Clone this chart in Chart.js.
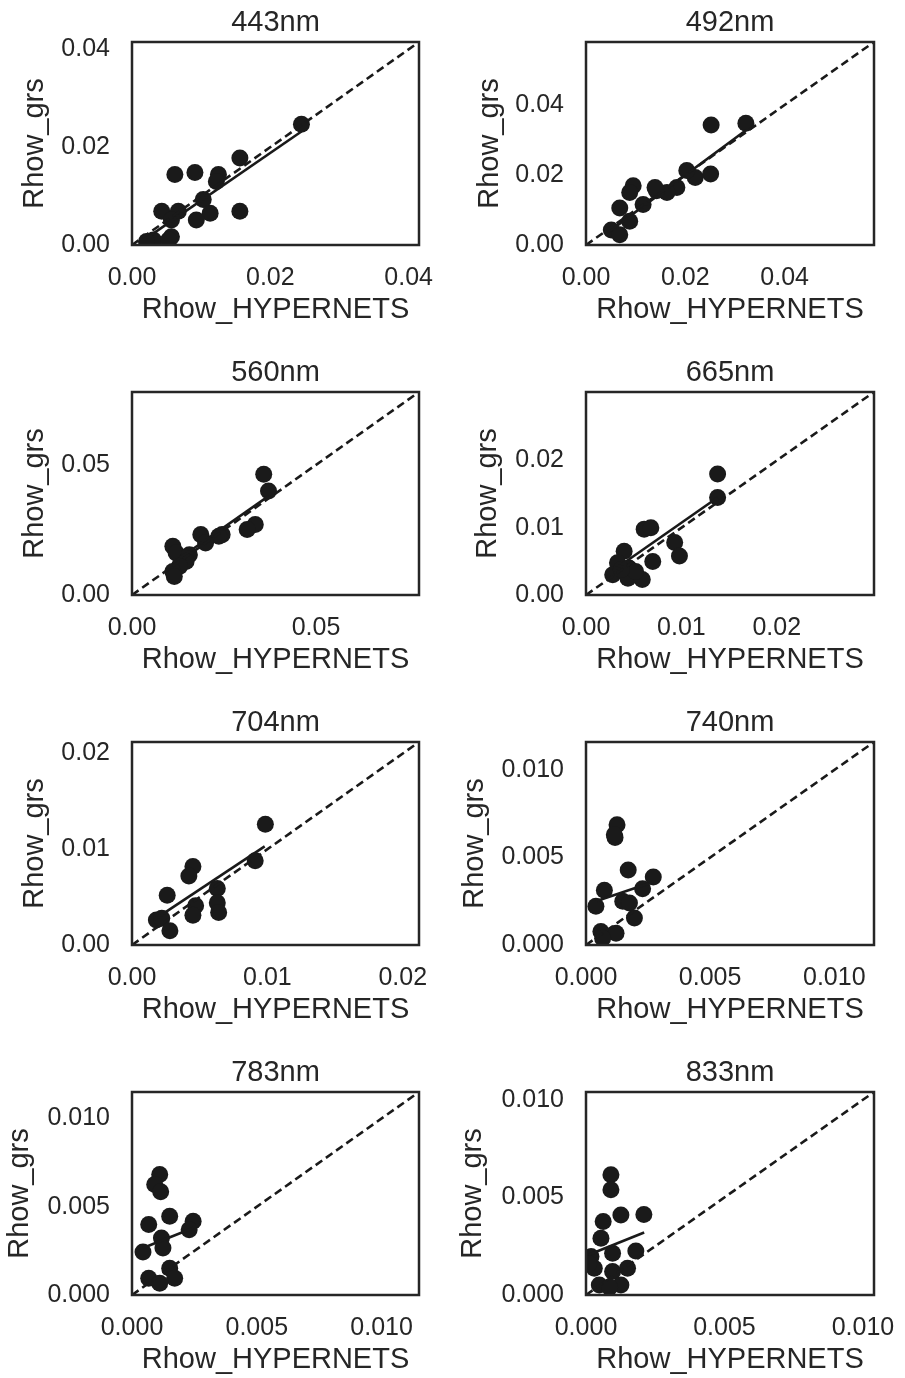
<!DOCTYPE html>
<html>
<head>
<meta charset="utf-8">
<script src="https://cdn.jsdelivr.net/npm/chart.js@4.4.1/dist/chart.umd.min.js"></script>
<style>
  html, body { margin: 0; padding: 0; background: #fff; overflow: hidden; }
  body { width: 905px; height: 1378px; position: relative; }
  .cell { position: absolute; }
</style>
</head>
<body>
<div class="cell" style="left:0;top:0"><canvas id="c0" width="452" height="350"></canvas></div>
<div class="cell" style="left:452px;top:0"><canvas id="c1" width="453" height="350"></canvas></div>
<div class="cell" style="left:0;top:350px"><canvas id="c2" width="452" height="350"></canvas></div>
<div class="cell" style="left:452px;top:350px"><canvas id="c3" width="453" height="350"></canvas></div>
<div class="cell" style="left:0;top:700px"><canvas id="c4" width="452" height="350"></canvas></div>
<div class="cell" style="left:452px;top:700px"><canvas id="c5" width="453" height="350"></canvas></div>
<div class="cell" style="left:0;top:1050px"><canvas id="c6" width="452" height="350"></canvas></div>
<div class="cell" style="left:452px;top:1050px"><canvas id="c7" width="453" height="350"></canvas></div>

<script>
// ==============================|| DATA ||============================== //
const bands = ['443nm', '492nm', '560nm', '665nm', '704nm', '740nm', '783nm', '833nm'];

// axis limits (same for x and y, 1:1 line goes corner to corner)
const axisMax = [0.0415, 0.058, 0.078, 0.0302, 0.0212, 0.0116, 0.0115, 0.0104];

// tick labels
const ticks2 = [0.00, 0.02, 0.04];
const ticks560 = [0.00, 0.05];
const ticks665 = [0.00, 0.01, 0.02];
const ticksNir = [0.000, 0.005, 0.010];

// Rhow_HYPERNETS (x) / Rhow_grs (y)
const hyp443 = [0.0245, 0.0156, 0.0125, 0.0122, 0.0062, 0.0091, 0.0156, 0.0103, 0.0113, 0.0093, 0.0043, 0.0067, 0.0057, 0.0031, 0.0057, 0.0053, 0.0021];
const grs443 = [0.0247, 0.0178, 0.0144, 0.0130, 0.0144, 0.0148, 0.0069, 0.0093, 0.0065, 0.0051, 0.0069, 0.0069, 0.0051, 0.0010, 0.0017, 0.0010, 0.0007];

const hyp492 = [0.0252, 0.0322, 0.0251, 0.0220, 0.0203, 0.0183, 0.0163, 0.0142, 0.0139, 0.0095, 0.0088, 0.0115, 0.0068, 0.0088, 0.0051, 0.0068];
const grs492 = [0.0343, 0.0348, 0.0203, 0.0193, 0.0213, 0.0164, 0.0150, 0.0155, 0.0164, 0.0169, 0.0150, 0.0116, 0.0106, 0.0068, 0.0043, 0.0029];

const hyp560 = [0.0358, 0.0371, 0.0335, 0.0313, 0.0245, 0.0236, 0.0187, 0.0200, 0.0111, 0.0120, 0.0156, 0.0147, 0.0129, 0.0111, 0.0115];
const grs560 = [0.0464, 0.0400, 0.0271, 0.0252, 0.0232, 0.0226, 0.0232, 0.0200, 0.0187, 0.0161, 0.0155, 0.0129, 0.0110, 0.0090, 0.0071];

const hyp665 = [0.0138, 0.0138, 0.0061, 0.0068, 0.0093, 0.0098, 0.0070, 0.0040, 0.0033, 0.0045, 0.0028, 0.0044, 0.0059, 0.0052, 0.0037];
const grs665 = [0.0180, 0.0145, 0.0098, 0.0100, 0.0078, 0.0058, 0.0050, 0.0065, 0.0048, 0.0040, 0.0030, 0.0025, 0.0023, 0.0035, 0.0038];

const hyp704 = [0.00985, 0.0091, 0.0045, 0.0042, 0.0026, 0.0063, 0.0063, 0.0064, 0.0047, 0.0045, 0.0018, 0.0022, 0.0028];
const grs704 = [0.0126, 0.0088, 0.0082, 0.0072, 0.0052, 0.0059, 0.0044, 0.0034, 0.0041, 0.0031, 0.0026, 0.0028, 0.0015];

const hyp740 = [0.00125, 0.00117, 0.00114, 0.0017, 0.00271, 0.00228, 0.00074, 0.0004, 0.00148, 0.00175, 0.00195, 0.0006, 0.00121, 0.00067];
const grs740 = [0.00687, 0.00615, 0.0063, 0.00429, 0.00388, 0.00321, 0.00313, 0.00221, 0.0025, 0.0024, 0.00154, 0.00077, 0.00067, 0.00038];

const hyp783 = [0.00111, 0.00091, 0.00115, 0.00151, 0.00067, 0.00245, 0.00229, 0.00118, 0.00124, 0.00044, 0.00151, 0.00171, 0.00067, 0.00111];
const grs783 = [0.00683, 0.00626, 0.00585, 0.00446, 0.00399, 0.00418, 0.0037, 0.00323, 0.00266, 0.00243, 0.00152, 0.00095, 0.00095, 0.00066];

const hyp833 = [0.0009, 0.0009, 0.00126, 0.00209, 0.00062, 0.00054, 0.00018, 0.00096, 0.0018, 0.0003, 0.00096, 0.0015, 0.00048, 0.00126, 0.00085, 0.0001];
const grs833 = [0.00616, 0.00539, 0.0041, 0.00413, 0.00377, 0.00291, 0.00197, 0.00214, 0.00226, 0.00137, 0.0012, 0.00137, 0.00051, 0.00051, 0.0004, 0.0016];

// regression line end points
const fitX = [[0.0021, 0.0245], [0.0047, 0.0322], [0.0111, 0.0371], [0.0028, 0.0138], [0.0017, 0.0098], [0.0004, 0.0027], [0.00044, 0.00245], [0.0001, 0.0021]];
const fitY = [[0.0014, 0.0232], [0.0039, 0.0328], [0.0123, 0.0380], [0.0036, 0.0145], [0.0027, 0.0103], [0.0025, 0.0036], [0.00266, 0.0038], [0.00206, 0.0032]];

const hyp = [hyp443, hyp492, hyp560, hyp665, hyp704, hyp740, hyp783, hyp833];
const grs = [grs443, grs492, grs560, grs665, grs704, grs740, grs783, grs833];
const tickSets = [ticks2, ticks2, ticks560, ticks665, ticks665, ticksNir, ticksNir, ticksNir];

// ==============================|| STYLE ||============================== //
const ink = '#1a1a1a';
const textColor = '#262626';
const fontFamily = '"Liberation Sans", Arial, Helvetica, sans-serif';
Chart.defaults.font.family = fontFamily;

// per panel: y-axis width (left of box), right padding, y-title offset
const yAxisWidth = [132, 134, 132, 134, 132, 134, 132, 134];
const rightPad = [33, 31, 33, 31, 33, 31, 33, 31];
const yTitlePad = [17.6, 20.6, 17.6, 18.6, 17.6, 5.6, 2.6, 3.6];

// black frame round the plot area
const frame = {
  id: 'frame',
  afterDraw(chart) {
    const a = chart.chartArea;
    const c = chart.ctx;
    c.save();
    c.strokeStyle = '#262626';
    c.lineWidth = 2.5;
    c.strokeRect(a.left, a.top, a.right - a.left, a.bottom - a.top);
    c.restore();
  }
};

function makePanel(i) {
  const lim = axisMax[i];
  const tv = tickSets[i];
  const dec = i >= 5 ? 3 : 2;
  const points = hyp[i].map((x, k) => ({ x: x, y: grs[i][k] }));
  const fit = fitX[i].map((x, k) => ({ x: x, y: fitY[i][k] }));
  const diag = [{ x: 0, y: 0 }, { x: lim, y: lim }];

  const tickFont = { size: 25, lineHeight: 1.2 };
  const labelFont = { size: 29, lineHeight: 1.2 };

  new Chart(document.getElementById('c' + i), {
    type: 'scatter',
    data: {
      datasets: [
        { data: points, pointRadius: 8.5, pointHoverRadius: 8.5, backgroundColor: ink, borderWidth: 0, clip: 0, order: 3 },
        { data: fit, showLine: true, pointRadius: 0, borderColor: ink, borderWidth: 2.6, clip: 0, order: 2 },
        { data: diag, showLine: true, pointRadius: 0, borderColor: ink, borderWidth: 2.6, borderDash: [8, 4.5], clip: 0, order: 1 }
      ]
    },
    options: {
      responsive: false,
      animation: false,
      devicePixelRatio: 1,
      events: [],
      layout: { padding: { left: 0, right: rightPad[i], top: 0, bottom: 0 } },
      plugins: {
        legend: { display: false },
        tooltip: { enabled: false },
        title: {
          display: true,
          text: bands[i],
          fullSize: false,
          color: textColor,
          font: { size: 29, lineHeight: 1.2, weight: 'normal' },
          padding: { top: 6, bottom: 1.2 }
        }
      },
      scales: {
        x: {
          type: 'linear',
          min: 0,
          max: lim,
          grid: { display: false, drawTicks: false },
          border: { display: false },
          ticks: { font: tickFont, color: textColor, padding: 18, maxRotation: 0, autoSkip: false,
                   callback: v => v.toFixed(dec) },
          afterBuildTicks: s => { s.ticks = tv.map(v => ({ value: v })); },
          // keep the plot box fixed: tick labels may run past its edges
          afterFit: s => { s.height = 105; s.paddingLeft = 0; s.paddingRight = 0; },
          title: { display: true, text: 'Rhow_HYPERNETS', color: textColor, font: labelFont,
                   padding: { top: 0, bottom: 22.6 } }
        },
        y: {
          type: 'linear',
          min: 0,
          max: lim,
          grid: { display: false, drawTicks: false },
          border: { display: false },
          ticks: { font: tickFont, color: textColor, padding: 22, autoSkip: false,
                   callback: v => v.toFixed(dec) },
          afterBuildTicks: s => { s.ticks = tv.map(v => ({ value: v })); },
          afterFit: s => { s.width = yAxisWidth[i]; s.paddingTop = 0; s.paddingBottom = 0; },
          title: { display: true, text: 'Rhow_grs', color: textColor, font: labelFont,
                   padding: { top: yTitlePad[i], bottom: 0 } }
        }
      }
    },
    plugins: [frame]
  });
}

for (let i = 0; i < bands.length; i++) makePanel(i);
</script>
</body>
</html>
